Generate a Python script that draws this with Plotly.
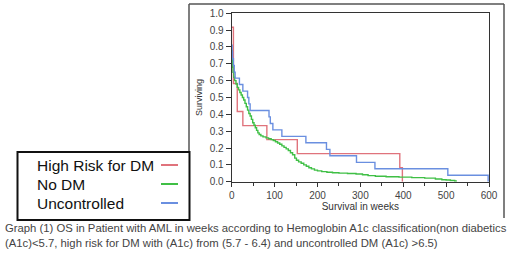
import plotly.graph_objects as go

W, H = 520, 254

series_names = ["High Risk for DM", "No DM", "Uncontrolled"]
series_colors = ["#e0737c", "#3fbf45", "#6a8fe0"]

red_weeks = [0, 4, 13, 26, 82, 153, 392, 398]
red_surv = [0.917, 0.583, 0.417, 0.333, 0.25, 0.167, 0.083, 0.0]

green_weeks = [0, 1, 2, 3, 5, 7, 10, 13, 16, 19, 22, 25, 28, 31, 34, 37, 40, 43, 46, 49,
               52, 55, 58, 61, 64, 68, 73, 80, 86, 92, 97, 102, 107, 112, 117, 122, 127,
               132, 137, 142, 147, 151, 156, 162, 168, 174, 180, 186, 193, 200, 210, 222,
               235, 250, 270, 290, 305, 318, 335, 360, 390, 420, 450, 475, 490, 500, 510,
               520, 525]
green_surv = [0.78, 0.72, 0.68, 0.65, 0.62, 0.6, 0.58, 0.56, 0.545, 0.53, 0.515, 0.5, 0.485,
              0.465, 0.445, 0.425, 0.405, 0.39, 0.37, 0.35, 0.335, 0.32, 0.305, 0.29, 0.28,
              0.272, 0.266, 0.26, 0.255, 0.25, 0.245, 0.237, 0.23, 0.222, 0.213, 0.204,
              0.195, 0.185, 0.172, 0.16, 0.14, 0.127, 0.118, 0.11, 0.1, 0.092, 0.083, 0.076,
              0.069, 0.064, 0.06, 0.056, 0.053, 0.051, 0.049, 0.046, 0.041, 0.036, 0.032,
              0.029, 0.027, 0.024, 0.021, 0.016, 0.012, 0.01, 0.007, 0.004, 0.004]

blue_weeks = [0, 1, 2, 4, 6, 8, 18, 26, 37, 40, 43, 87, 90, 96, 117, 173, 221, 229, 291,
              334, 504, 598]
blue_surv = [0.81, 0.77, 0.73, 0.69, 0.65, 0.615, 0.577, 0.538, 0.5, 0.462, 0.423, 0.385,
             0.346, 0.308, 0.269, 0.231, 0.192, 0.154, 0.115, 0.077, 0.038, 0.0]

x_ticks = [0, 100, 200, 300, 400, 500, 600]
y_ticks = [0.0, 0.1, 0.2, 0.3, 0.4, 0.5, 0.6, 0.7, 0.8, 0.9, 1.0]

caption = ("Graph (1) OS in Patient with AML in weeks according to Hemoglobin A1c classification(non diabetics<br>"
           "(A1c)<5.7, high risk for DM with (A1c) from (5.7 - 6.4) and uncontrolled DM (A1c) >6.5)")

FONT = "Arial, Liberation Sans, sans-serif"

def px(x):
    return x / W

def py(y):
    return 1 - y / H

fig = go.Figure()
for name, col, xs, ys in zip(series_names, series_colors,
                             [red_weeks, green_weeks, blue_weeks],
                             [red_surv, green_surv, blue_surv]):
    fig.add_trace(go.Scatter(x=xs, y=ys, mode="lines", line=dict(color=col, width=1.4, shape="hv"),
                             name=name, showlegend=False))

axis_font = dict(family=FONT, size=10, color="#444")
fig.update_layout(
    width=W, height=H, margin=dict(l=0, r=0, t=0, b=0, autoexpand=False),
    paper_bgcolor="white", plot_bgcolor="white",
    xaxis=dict(domain=[px(231.7), px(489)], range=[0, 600], tickvals=x_ticks, automargin=False,
               showgrid=False, zeroline=False, showline=True, linecolor="#333", linewidth=1.2,
               mirror=True, ticks="outside", ticklen=4, tickcolor="#333", tickfont=axis_font,
               minor=dict(tickvals=[50, 150, 250, 350, 450, 550], ticks="outside", ticklen=3,
                          tickcolor="#333"),
               title=dict(text="Survival in weeks", font=dict(family=FONT, size=10, color="#333"),
                          standoff=3)),
    yaxis=dict(domain=[py(181.7), py(13.3)], range=[0, 1.0], tickvals=y_ticks, tickformat=".1f",
               automargin=False,
               showgrid=False, zeroline=False, showline=True, linecolor="#333", linewidth=1.2,
               mirror=True, ticks="outside", ticklen=5, tickcolor="#333", tickfont=axis_font,
               title=dict(text="Surviving", font=dict(family=FONT, size=9, color="#333"), standoff=5)),
)

shapes = []
# outer frame (no bottom edge)
shapes.append(dict(type="line", xref="paper", yref="paper", x0=px(189), x1=px(504), y0=py(4), y1=py(4),
                   line=dict(color="#555", width=1.5)))
shapes.append(dict(type="line", xref="paper", yref="paper", x0=px(189), x1=px(189), y0=py(4), y1=py(218),
                   line=dict(color="#555", width=1.5)))
shapes.append(dict(type="line", xref="paper", yref="paper", x0=px(504), x1=px(504), y0=py(4), y1=py(218),
                   line=dict(color="#555", width=1.5)))
# legend box
shapes.append(dict(type="rect", xref="paper", yref="paper", x0=px(17.5), x1=px(189.5), y0=py(152), y1=py(220),
                   line=dict(color="#111", width=2), fillcolor="white"))
legend_y = [165, 184, 203]
annotations = []
for name, col, ly in zip(series_names, series_colors, legend_y):
    shapes.append(dict(type="line", xref="paper", yref="paper", x0=px(161), x1=px(178), y0=py(ly), y1=py(ly),
                       line=dict(color=col, width=2)))
    annotations.append(dict(text=name, xref="paper", yref="paper", x=px(35), y=py(ly), xanchor="left",
                            yanchor="middle", showarrow=False,
                            font=dict(family=FONT, size=15.5, color="#111")))
annotations.append(dict(text=caption, xref="paper", yref="paper", x=px(3), y=py(220), xanchor="left",
                        yanchor="top", align="left", showarrow=False,
                        font=dict(family=FONT, size=11.3, color="#444")))
fig.update_layout(shapes=shapes, annotations=annotations)

fig.write_html("out.html", config={"displayModeBar": False},
               post_script="document.body.style.margin='0';document.body.style.overflow='hidden';")
